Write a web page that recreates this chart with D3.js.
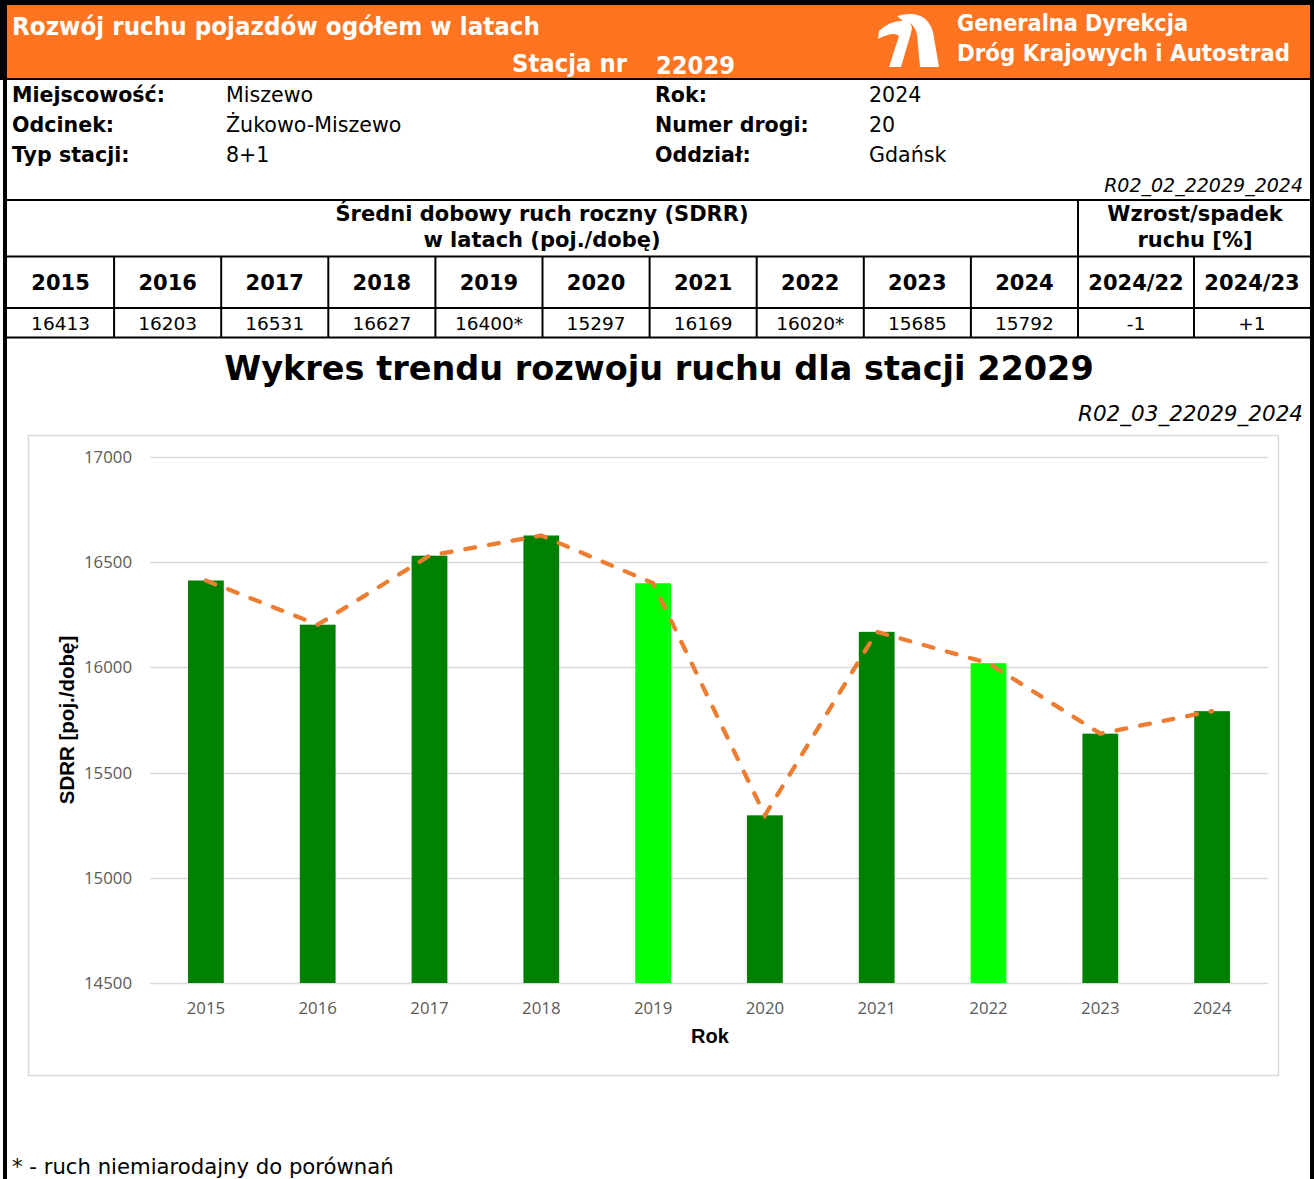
<!DOCTYPE html>
<html>
<head>
<meta charset="utf-8">
<script src="https://cdn.jsdelivr.net/npm/d3@7"></script>
<style>
    body { margin: 0; background: #fff; }
    svg { display: block; }
    .verd { font-family: "DejaVu Sans", Verdana, sans-serif; }
    .tick-label { font-family: "Open Sans", "Noto Sans", sans-serif; font-size: 16.8px; fill: #595959; }
    .axis-title { font-family: "Liberation Sans", Arial, sans-serif; font-weight: bold; fill: #000; }
</style>
</head>
<body>
<svg class="sheet"></svg>
<script>
(function(){

    /**
     * Size of the whole sheet
     */
    var w = 1314;
    var h = 1179;

    /**
     * Data of the station
     */
    var years = ['2015', '2016', '2017', '2018', '2019', '2020', '2021', '2022', '2023', '2024'];
    var sdrr = [16413, 16203, 16531, 16627, 16400, 15297, 16169, 16020, 15685, 15792];
    // years marked with * (not comparable), drawn in light green
    var unreliable = [false, false, false, false, true, false, false, true, false, false];
    var changeLabels = ['2024/22', '2024/23'];
    var changeValues = ['-1', '+1'];
    var yTicks = [14500, 15000, 15500, 16000, 16500, 17000];

    var infoLeft = [['Miejscowość:', 'Miszewo'], ['Odcinek:', 'Żukowo-Miszewo'], ['Typ stacji:', '8+1']];
    var infoRight = [['Rok:', '2024'], ['Numer drogi:', '20'], ['Oddział:', 'Gdańsk']];

    var orange = '#FF7420';
    var darkGreen = '#008000';
    var lightGreen = '#00FF00';
    var lineColor = '#ED7D31';

    var svg = d3.select('.sheet').attr('width', w).attr('height', h);

    /**
     * Adds a text element, small helper to keep the code below short
     */
    var addText = function(parent, x, y, txt, size, opts){
        opts = opts || {};
        var t = parent.append('text')
            .attr('class', opts.cls || 'verd')
            .attr('x', x)
            .attr('y', y)
            .attr('font-size', size)
            .attr('font-weight', opts.bold ? 'bold' : 'normal')
            .attr('font-style', opts.italic ? 'italic' : 'normal')
            .attr('text-anchor', opts.anchor || 'start')
            .attr('fill', opts.fill || '#000')
            .text(txt);
        if(opts.len) t.attr('textLength', opts.len).attr('lengthAdjust', 'spacingAndGlyphs');
        return t;
    };

    //---------------- header bar ----------------
    var head = svg.append('g').classed('header', true);
    head.append('rect').attr('x', 0).attr('y', 0).attr('width', w).attr('height', 80).attr('fill', '#000');
    head.append('rect').attr('x', 7).attr('y', 5).attr('width', 1303).attr('height', 73).attr('fill', orange);

    addText(head, 12, 35, 'Rozwój ruchu pojazdów ogółem w latach', 24, {bold: true, fill: '#fff', len: 528});
    addText(head, 512, 72, 'Stacja nr', 24, {bold: true, fill: '#fff', len: 115});
    addText(head, 656, 74, '22029', 24, {bold: true, fill: '#fff', len: 79});
    addText(head, 957, 31, 'Generalna Dyrekcja', 22.5, {bold: true, fill: '#fff', len: 231});
    addText(head, 957, 61, 'Dróg Krajowych i Autostrad', 22.5, {bold: true, fill: '#fff', len: 333});

    //the road logo
    head.append('path')
        .attr('fill', '#fff')
        .attr('d', 'M897,16 Q926,8 933,32 L939,67 L920,67 L917,34 Q914,22 903,21 Z');
    head.append('path')
        .attr('fill', '#fff')
        .attr('d', 'M879,31 Q892,19 906,21 Q914,24 911,33 L901,67 L889,67 L899,36 Q894,31 878,39 Z');

    //---------------- page frame ----------------
    var frame = svg.append('g').classed('frame', true);
    frame.append('rect').attr('x', 3).attr('y', 78).attr('width', 4).attr('height', h - 78).attr('fill', '#000');
    frame.append('rect').attr('x', 1310).attr('y', 78).attr('width', 4).attr('height', h - 78).attr('fill', '#000');

    //---------------- station info ----------------
    var info = svg.append('g').classed('info', true);
    infoLeft.forEach(function(row, i){
        addText(info, 12, 102 + i * 30, row[0], 20.6, {bold: true});
        addText(info, 226, 102 + i * 30, row[1], 20.6);
    });
    infoRight.forEach(function(row, i){
        addText(info, 655, 102 + i * 30, row[0], 20.6, {bold: true});
        addText(info, 869, 102 + i * 30, row[1], 20.6);
    });
    addText(info, 1303, 192, 'R02_02_22029_2024', 19, {italic: true, anchor: 'end'});

    //---------------- SDRR table ----------------
    var table = svg.append('g').classed('table', true);
    var col = d3.scaleBand().domain(years).range([7, 1078]);
    var chCol = d3.scaleBand().domain(changeLabels).range([1078, 1310]);

    var hline = function(y, sw){
        table.append('line').attr('x1', 5).attr('x2', 1312).attr('y1', y).attr('y2', y)
            .attr('stroke', '#000').attr('stroke-width', sw);
    };
    var vline = function(x, y1, y2, sw){
        table.append('line').attr('x1', x).attr('x2', x).attr('y1', y1).attr('y2', y2)
            .attr('stroke', '#000').attr('stroke-width', sw);
    };
    hline(200, 2);
    hline(256.5, 2);
    hline(308, 2);
    hline(337.5, 2);
    years.slice(1).forEach(function(y){ vline(col(y), 256, 338, 2); });
    vline(1078, 200, 338, 2);
    vline(chCol(changeLabels[1]), 256, 338, 2);

    addText(table, 542, 221, 'Średni dobowy ruch roczny (SDRR)', 21, {bold: true, anchor: 'middle'});
    addText(table, 542, 247, 'w latach (poj./dobę)', 21, {bold: true, anchor: 'middle'});
    addText(table, 1195, 221, 'Wzrost/spadek', 21, {bold: true, anchor: 'middle'});
    addText(table, 1195, 247, 'ruchu [%]', 21, {bold: true, anchor: 'middle'});

    years.forEach(function(y, i){
        var cx = col(y) + col.bandwidth() / 2;
        addText(table, cx, 290, y, 21, {bold: true, anchor: 'middle'});
        addText(table, cx, 330, sdrr[i] + (unreliable[i] ? '*' : ''), 18.5, {anchor: 'middle'});
    });
    changeLabels.forEach(function(c, i){
        var cx = chCol(c) + chCol.bandwidth() / 2;
        addText(table, cx, 290, c, 21, {bold: true, anchor: 'middle'});
        addText(table, cx, 330, changeValues[i], 18.5, {anchor: 'middle'});
    });

    //---------------- chart ----------------
    addText(svg, 659, 380, 'Wykres trendu rozwoju ruchu dla stacji 22029', 33.5, {bold: true, anchor: 'middle'});
    addText(svg, 1303, 421, 'R02_03_22029_2024', 21.5, {italic: true, anchor: 'end'});

    var chart = svg.append('g').classed('chart', true);
    chart.append('rect')
        .attr('x', 28.5).attr('y', 435.5).attr('width', 1250).attr('height', 640)
        .attr('fill', '#fff').attr('stroke', '#d9d9d9').attr('stroke-width', 1.5);

    var x = d3.scaleBand().domain(years).range([150, 1268]);
    var y = d3.scaleLinear().domain([14500, 17000]).range([983, 457]);
    var barW = x.bandwidth() * 0.32;
    var cx = function(d){ return x(d) + x.bandwidth() / 2; };

    //grid lines
    chart.append('g').selectAll('line')
        .data(yTicks)
        .enter()
        .append('line')
        .attr('x1', 150).attr('x2', 1268)
        .attr('y1', function(d){ return Math.round(y(d)) + 0.5; })
        .attr('y2', function(d){ return Math.round(y(d)) + 0.5; })
        .attr('stroke', '#d9d9d9')
        .attr('stroke-width', 1.3);

    //y tick labels
    chart.append('g').selectAll('text')
        .data(yTicks)
        .enter()
        .append('text')
        .attr('class', 'tick-label')
        .attr('x', 132)
        .attr('y', function(d){ return y(d); })
        .attr('dy', '0.36em')
        .attr('text-anchor', 'end')
        .text(function(d){ return d; });

    //bars
    chart.append('g').selectAll('rect')
        .data(years)
        .enter()
        .append('rect')
        .attr('x', function(d){ return cx(d) - barW / 2; })
        .attr('y', function(d, i){ return y(sdrr[i]); })
        .attr('width', barW)
        .attr('height', function(d, i){ return y(14500) - y(sdrr[i]); })
        .attr('fill', function(d, i){ return unreliable[i] ? lightGreen : darkGreen; });

    //x tick labels
    chart.append('g').selectAll('text')
        .data(years)
        .enter()
        .append('text')
        .attr('class', 'tick-label')
        .attr('x', cx)
        .attr('y', 1014)
        .attr('text-anchor', 'middle')
        .text(function(d){ return d; });

    //dashed trend line
    var line = d3.line()
        .x(function(d){ return cx(d); })
        .y(function(d, i){ return y(sdrr[i]); });
    chart.append('path')
        .datum(years)
        .attr('d', line)
        .attr('fill', 'none')
        .attr('stroke', lineColor)
        .attr('stroke-width', 4.3)
        .attr('stroke-linecap', 'round')
        .attr('stroke-dasharray', '10,14');

    //axis titles
    chart.append('text')
        .attr('class', 'axis-title')
        .attr('x', 710).attr('y', 1043)
        .attr('font-size', 20)
        .attr('text-anchor', 'middle')
        .text('Rok');
    chart.append('text')
        .attr('class', 'axis-title')
        .attr('transform', 'translate(74,720) rotate(-90)')
        .attr('font-size', 20.5)
        .attr('text-anchor', 'middle')
        .text('SDRR [poj./dobę]');

    //footnote
    addText(svg, 12, 1174, '* - ruch niemiarodajny do porównań', 21.2);

})();
</script>
</body>
</html>
